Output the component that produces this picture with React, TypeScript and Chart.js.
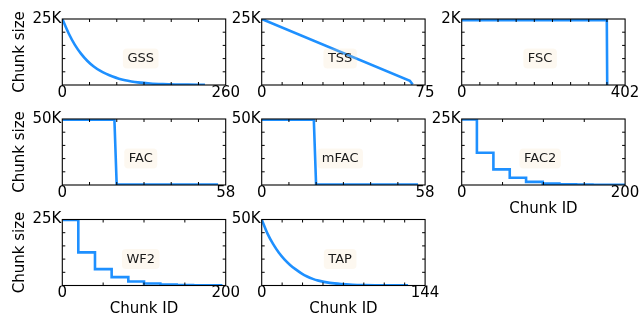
import React, { useEffect, useRef } from 'react';
import { Chart, registerables } from 'chart.js';

Chart.register(...registerables);

// ---------- data ----------
const GSS_X = [0, 10, 20, 30, 40, 50, 60, 70, 80, 90, 100, 110, 120, 140, 160, 180, 200, 227];
const GSS_Y = [25000, 19600, 15200, 11800, 9100, 7000, 5400, 4200, 3200, 2400, 1800, 1350, 1000, 560, 330, 200, 140, 100];

const TSS_X = [0, 68, 69.3];
const TSS_Y = [25000, 1600, 200];

const FSC_X = [0, 357, 358];
const FSC_Y = [1960, 1960, 0];

const FAC_X = [0, 18.5, 19.3, 55.3];
const FAC_Y = [49400, 49400, 400, 400];

const MFAC_X = [0, 18.5, 19.3, 55.5];
const MFAC_Y = [49400, 49400, 400, 400];

const FAC2_X = [0, 18.6, 38.8, 58.8, 78.8, 99.2, 119.6, 140, 160, 180, 200];
const FAC2_Y = [24800, 12200, 5900, 2750, 1200, 520, 260, 130, 70, 40, 40];

const WF2_X = [0, 19.6, 40, 60.4, 80.8, 100, 120, 140, 160, 180, 196];
const WF2_Y = [24800, 12560, 6220, 3170, 1520, 760, 380, 190, 100, 50, 50];

const TAP_X = [0, 5, 10, 15, 20, 25, 30, 35, 40, 45, 50, 60, 70, 80, 90, 100, 115, 129];
const TAP_Y = [50000, 39500, 31500, 25000, 19800, 15600, 12200, 9200, 6800, 5000, 3700, 2000, 1100, 600, 350, 220, 150, 100];

const NAMES = ['GSS', 'TSS', 'FSC', 'FAC', 'mFAC', 'FAC2', 'WF2', 'TAP'];
const X_MAX = [260, 75, 402, 58, 58, 200, 200, 144];
const Y_MAX = [25000, 25000, 2000, 50000, 50000, 25000, 25000, 50000];
const Y_TICK_LABEL = ['25K', '25K', '2K', '50K', '50K', '25K', '25K', '50K'];
const X_TICK_LABEL_VALUES = X_MAX.map((m) => [0, m]);
const X_MINOR_INTERVALS = [6, 8, 9, 6, 6, 4, 4, 8];
const Y_MINOR_INTERVALS = [5, 5, 5, 5, 5, 5, 5, 5];
const SERIES_X = [GSS_X, TSS_X, FSC_X, FAC_X, MFAC_X, FAC2_X, WF2_X, TAP_X];
const SERIES_Y = [GSS_Y, TSS_Y, FSC_Y, FAC_Y, MFAC_Y, FAC2_Y, WF2_Y, TAP_Y];
const SMOOTH = [true, false, false, false, false, false, false, true];
const STEPPED = [false, false, false, false, false, true, true, false];
const Y_TITLE = 'Chunk size';
const X_TITLE = 'Chunk ID';

// ---------- layout ----------
const CW = 644;
const CH = 340;
const COL_L = [62.3, 261.7, 461.7];
const PW = 163.4;
const ROW_T = [19, 119, 219.5];
const PH = 66;
const POS = [
  [0, 0], [1, 0], [2, 0],
  [0, 1], [1, 1], [2, 1],
  [0, 2], [1, 2],
];
const SHOW_Y_TITLE = [true, false, false, true, false, false, true, false];
const SHOW_X_TITLE = [false, false, false, false, false, true, true, true];
const YW = 55;
const XH = 33;
const FONT = '"DejaVu Sans", "Liberation Sans", sans-serif';
const BLUE = '#1E90FF';

const decorPlugin = {
  id: 'panelDecor',
  afterDatasetsDraw(chart: any, _args: any, opts: any) {
    const { ctx, chartArea } = chart;
    const { left, right, top, bottom } = chartArea;
    const w = right - left;
    const h = bottom - top;
    ctx.save();
    ctx.font = `13px ${FONT}`;
    const tw = ctx.measureText(opts.name).width;
    const bw = tw + 9;
    const bh = 20;
    const cx = left + 0.48 * w;
    const cy = bottom - 0.4 * h;
    ctx.fillStyle = 'rgba(245, 222, 179, 0.2)';
    ctx.beginPath();
    (ctx as any).roundRect(cx - bw / 2, cy - bh / 2, bw, bh, 4);
    ctx.fill();
    ctx.fillStyle = '#1a1a1a';
    ctx.textAlign = 'center';
    ctx.textBaseline = 'middle';
    ctx.fillText(opts.name, cx, cy + 0.5);
    ctx.restore();
  },
  afterDraw(chart: any, _args: any, opts: any) {
    const { ctx, chartArea } = chart;
    const { left, right, top, bottom } = chartArea;
    const xs = chart.scales.x;
    const ys = chart.scales.y;
    const tl = 3;
    ctx.save();
    ctx.strokeStyle = '#000';
    ctx.lineWidth = 1;
    ctx.beginPath();
    for (let i = 1; i < opts.nx; i++) {
      const px = xs.getPixelForValue((i * opts.xMax) / opts.nx);
      ctx.moveTo(px, bottom);
      ctx.lineTo(px, bottom - tl);
      ctx.moveTo(px, top);
      ctx.lineTo(px, top + tl);
    }
    for (let i = 1; i < opts.ny; i++) {
      const py = ys.getPixelForValue((i * opts.yMax) / opts.ny);
      ctx.moveTo(left, py);
      ctx.lineTo(left + tl, py);
      ctx.moveTo(right, py);
      ctx.lineTo(right - tl, py);
    }
    ctx.stroke();
    ctx.lineWidth = 1.1;
    ctx.strokeRect(left, top, right - left, bottom - top);
    ctx.restore();
  },
};

function Panel({ idx }: { idx: number }) {
  const ref = useRef<HTMLCanvasElement>(null);
  useEffect(() => {
    const [col, row] = POS[idx];
    const L = COL_L[col];
    const T = ROW_T[row];
    const R = L + PW;
    const B = T + PH;
    const xMax = X_MAX[idx];
    const yMax = Y_MAX[idx];
    const data = SERIES_X[idx].map((x, i) => ({ x, y: SERIES_Y[idx][i] }));
    const chart = new Chart(ref.current as HTMLCanvasElement, {
      type: 'line',
      data: {
        datasets: [
          {
            data,
            borderColor: BLUE,
            borderWidth: 2.6,
            pointRadius: 0,
            fill: false,
            tension: 0,
            cubicInterpolationMode: SMOOTH[idx] ? 'monotone' : 'default',
            stepped: STEPPED[idx] ? 'before' : false,
            clip: 0,
          } as any,
        ],
      },
      options: {
        animation: false,
        responsive: false,
        events: [],
        layout: {
          padding: { left: L - YW, top: T, right: CW - R, bottom: CH - B - XH },
        },
        plugins: {
          legend: { display: false },
          tooltip: { enabled: false },
          panelDecor: {
            name: NAMES[idx],
            nx: X_MINOR_INTERVALS[idx],
            ny: Y_MINOR_INTERVALS[idx],
            xMax,
            yMax,
          },
        } as any,
        scales: {
          x: {
            type: 'linear',
            min: 0,
            max: xMax,
            grid: { display: false, drawTicks: false },
            border: { display: false },
            ticks: {
              font: { family: FONT, size: 15, lineHeight: 1.2 },
              color: '#000',
              padding: -1,
              maxRotation: 0,
              autoSkip: false,
              callback: (v: any) => String(v),
            },
            afterBuildTicks: (s: any) => {
              s.ticks = X_TICK_LABEL_VALUES[idx].map((value) => ({ value }));
            },
            afterFit: (s: any) => {
              s.height = XH;
              s.paddingLeft = 0;
              s.paddingRight = 0;
            },
            title: {
              display: SHOW_X_TITLE[idx],
              text: X_TITLE,
              color: '#000',
              font: { family: FONT, size: 15, lineHeight: 1.2 },
              padding: 0,
            },
          },
          y: {
            type: 'linear',
            min: 0,
            max: yMax,
            grid: { display: false, drawTicks: false },
            border: { display: false },
            ticks: {
              font: { family: FONT, size: 15, lineHeight: 1.2 },
              color: '#000',
              padding: 1,
              autoSkip: false,
              callback: () => Y_TICK_LABEL[idx],
            },
            afterBuildTicks: (s: any) => {
              s.ticks = [{ value: yMax }];
            },
            afterFit: (s: any) => {
              s.width = YW;
              s.paddingTop = 0;
              s.paddingBottom = 0;
            },
            title: {
              display: SHOW_Y_TITLE[idx],
              text: Y_TITLE,
              color: '#000',
              font: { family: FONT, size: 15, lineHeight: 1.2 },
              padding: { top: 4, bottom: 0 },
            },
          },
        },
      },
      plugins: [decorPlugin as any],
    });
    return () => chart.destroy();
  }, [idx]);
  return (
    <canvas
      ref={ref}
      width={CW}
      height={CH}
      style={{ position: 'absolute', left: 0, top: 0, width: CW, height: CH }}
    />
  );
}

export default function App() {
  return (
    <div
      style={{
        position: 'fixed',
        left: 0,
        top: 0,
        width: CW,
        height: 320,
        overflow: 'hidden',
        background: '#fff',
      }}
    >
      {NAMES.map((_, i) => (
        <Panel key={i} idx={i} />
      ))}
    </div>
  );
}
